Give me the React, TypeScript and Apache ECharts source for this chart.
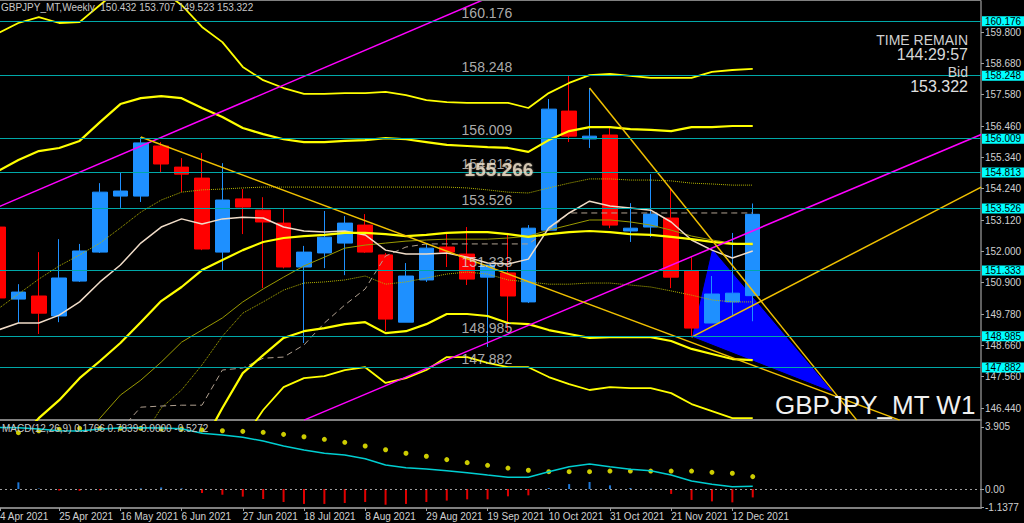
import React, { useEffect, useRef } from 'react';
import * as echarts from 'echarts';

// ---------- data ----------
const weekDates = ['4 Apr 2021','11 Apr 2021','18 Apr 2021','25 Apr 2021','2 May 2021','9 May 2021','16 May 2021','23 May 2021','30 May 2021','6 Jun 2021','13 Jun 2021','20 Jun 2021','27 Jun 2021','4 Jul 2021','11 Jul 2021','18 Jul 2021','25 Jul 2021','1 Aug 2021','8 Aug 2021','15 Aug 2021','22 Aug 2021','29 Aug 2021','5 Sep 2021','12 Sep 2021','19 Sep 2021','26 Sep 2021','3 Oct 2021','10 Oct 2021','17 Oct 2021','24 Oct 2021','31 Oct 2021','7 Nov 2021','14 Nov 2021','21 Nov 2021','28 Nov 2021','5 Dec 2021','12 Dec 2021','19 Dec 2021'];
const dateTickIdx = [0, 3, 6, 9, 12, 15, 18, 21, 24, 27, 30, 33, 36];

const opens = [152.87,150.31,150.42,149.71,150.95,151.98,153.97,153.97,155.75,155.00,154.61,151.98,153.87,153.47,153.01,151.45,151.95,152.30,152.94,151.88,149.49,150.99,152.16,151.91,151.09,151.24,150.21,152.76,156.99,156.00,156.14,152.73,152.87,153.19,151.31,149.46,150.21,150.432];
const closes = [150.35,150.56,149.81,151.06,152.02,154.11,154.15,155.86,155.11,154.75,152.09,153.83,153.58,153.05,151.45,151.98,152.51,153.01,151.98,149.60,151.13,152.12,151.98,151.02,151.52,150.42,152.83,157.06,156.10,156.10,152.94,152.83,153.33,151.09,149.28,150.49,150.52,153.322];
const lows = [150.20,149.46,149.07,149.49,150.92,151.95,153.55,153.76,154.82,154.11,152.05,151.34,152.62,150.70,151.40,148.75,151.41,151.16,151.95,149.17,149.49,150.92,151.45,150.81,148.61,149.17,150.17,152.76,155.89,155.68,152.83,152.34,152.51,150.70,148.96,149.46,149.74,149.523];
const highs = [153.10,150.84,151.98,152.44,152.27,154.43,154.82,156.07,155.89,155.32,155.50,155.14,154.22,153.93,153.51,152.20,153.44,153.26,153.33,151.95,151.59,152.30,152.66,152.87,151.52,152.66,152.94,157.42,158.27,157.81,156.39,153.72,154.75,154.26,151.80,151.13,152.66,153.707];

const bandUpper2 = [159.76,160.12,160.33,160.12,160.15,160.76,161.36,161.58,161.29,160.76,159.98,159.44,158.56,158.09,157.81,157.60,157.60,157.63,157.63,157.67,157.56,157.38,157.31,157.28,157.28,157.28,157.10,157.63,157.99,158.27,158.31,158.24,158.17,158.17,158.17,158.38,158.45,158.49];
const bandUpper1 = [154.86,155.25,155.57,155.68,155.93,156.60,157.24,157.45,157.52,157.45,157.10,156.78,156.39,156.17,155.99,155.89,155.89,155.93,155.96,156.03,155.99,155.89,155.79,155.75,155.71,155.68,155.54,155.96,156.28,156.42,156.42,156.35,156.32,156.28,156.42,156.42,156.46,156.46];
const bandMid = [null,145.30,146.08,146.72,147.50,148.11,148.75,149.49,150.24,150.74,151.34,151.70,152.05,152.34,152.48,152.55,152.59,152.66,152.66,152.62,152.55,152.59,152.66,152.69,152.69,152.62,152.52,152.62,152.69,152.73,152.69,152.62,152.59,152.52,152.44,152.34,152.27,152.27];
const bandLower1 = [null,null,null,null,null,null,null,null,null,null,145.12,146.44,147.68,148.32,148.93,149.17,149.28,149.42,149.49,149.10,149.17,149.42,149.78,149.78,149.71,149.46,149.42,149.21,149.07,148.93,148.96,148.96,148.96,148.82,148.54,148.36,148.18,148.14];
const bandLower2 = [null,null,null,null,null,null,null,null,null,null,null,null,145.30,146.37,147.18,147.50,147.57,147.79,147.89,147.33,147.50,147.79,148.25,148.25,148.04,147.89,147.89,147.54,147.29,147.08,147.18,147.15,147.15,146.97,146.58,146.33,146.08,146.08];
const oliveSolid = [null,null,null,null,145.30,146.08,146.90,147.43,148.07,148.78,149.21,149.64,150.21,150.67,151.09,151.49,151.80,152.12,152.23,152.30,152.37,152.41,152.44,152.44,152.44,152.48,152.55,152.76,152.94,153.12,153.12,153.05,152.94,152.76,152.55,152.41,152.30,152.23];
const oliveDotUpper = [149.96,150.49,151.02,151.49,151.88,152.30,152.84,153.40,153.83,154.11,154.19,154.22,154.26,154.29,154.29,154.29,154.29,154.29,154.29,154.29,154.29,154.29,154.29,154.26,154.19,154.11,154.08,154.26,154.43,154.58,154.58,154.54,154.54,154.51,154.43,154.40,154.36,154.36];
const oliveDotLower = [null,null,null,null,null,null,null,145.30,146.44,147.08,147.97,148.99,149.81,150.21,150.63,150.88,150.92,150.99,151.13,150.84,150.92,151.06,151.20,151.27,151.20,150.99,150.92,150.84,150.84,150.88,150.88,150.81,150.74,150.60,150.45,150.28,150.21,150.21];
const whiteMA = [149.21,149.46,149.46,149.74,150.21,150.92,151.52,152.30,152.87,153.16,152.98,153.16,153.22,153.19,152.87,152.73,152.69,152.73,152.59,152.05,151.91,151.91,151.95,151.80,151.59,151.56,151.73,152.84,153.37,153.79,153.62,153.55,153.47,153.05,152.41,152.05,151.77,152.02];
const greyDashed = [null,null,null,null,null,null,145.66,146.47,146.51,146.54,146.54,147.79,147.86,148.21,148.25,148.68,149.46,150.10,150.67,151.84,152.16,152.27,152.27,152.27,152.27,152.27,152.27,152.76,153.37,153.37,153.37,153.37,153.37,153.37,153.37,153.37,153.37,153.37];

const macdLine = [3.87,3.86,3.78,3.67,3.65,3.78,3.84,3.86,3.84,3.80,3.51,3.40,3.26,3.02,2.71,2.46,2.25,2.14,1.91,1.51,1.34,1.26,1.15,1.03,0.88,0.74,0.74,1.09,1.40,1.57,1.40,1.24,1.15,0.88,0.50,0.30,0.14,0.18];
const signalDots = [null,3.55,3.67,3.76,3.82,3.82,3.82,3.82,3.78,3.78,3.72,3.67,3.63,3.57,3.44,3.29,3.13,2.94,2.71,2.47,2.25,2.06,1.85,1.66,1.49,1.32,1.18,1.09,1.09,1.09,1.13,1.13,1.13,1.13,1.13,1.05,0.99,0.78];
const macdHist = [null,0.42,0.03,-0.10,-0.12,-0.08,-0.04,0.04,0.10,0.04,-0.25,-0.36,-0.48,-0.63,-0.82,-0.94,-0.94,-0.88,-0.82,-0.99,-0.94,-0.82,-0.73,-0.65,-0.65,-0.46,-0.40,0.06,0.31,0.44,0.23,0.06,0.02,-0.31,-0.69,-0.78,-0.84,-0.53];

const levels = [160.176, 158.248, 156.009, 154.813, 153.526, 151.333, 148.985, 147.882];
const bidPrice = 153.322;
const pivotValue = 155.266;
const priceTicks = [159.8, 158.68, 157.58, 156.46, 155.34, 154.24, 153.12, 152.0, 150.9, 149.78, 148.66, 147.56, 146.44];
const macdTicks = [3.905, 0, -1.1377];
const macdTickLabels = ['3.905', '0.00', '-1.1377'];

const magentaUpper = [[0, 153.58], [24, 161.01]];
const magentaLower = [[15, 146.01], [48.2, 156.16]];
const goldA = [[7, 156.07], [44.2, 146.01]];
const goldB = [[29, 157.81], [42.1, 146.01]];
const goldC = [[34, 148.96], [48.2, 154.29]];
const triangle = [[34, 148.96], [35, 152.12], [41.0, 146.97]];

const headerText = 'GBPJPY_MT,Weekly  150.432 153.707 149.523 153.322';
const macdText = 'MACD(12,26,9) 0.1766 0.7839 0.0000 -0.5272';
const timeRemain = '144:29:57';
const symbolText = 'GBPJPY_MT W1';

// ---------- layout ----------
const X_MIN = 0.098;
const X_MAX = 48.19;
const narrow = "'Liberation Sans Narrow', 'Liberation Sans', sans-serif";
const sans = "'Liberation Sans', Arial, sans-serif";
const dateTickPos = dateTickIdx.map((i) => Math.max(i, X_MIN + 0.002));

const toXY = (arr: (number | null)[]) =>
  arr.map((v, i) => (v == null ? null : [i, v])).filter((d) => d !== null) as number[][];

const line = (data: number[][], color: string, width: number, type: any = 'solid', z = 3) => ({
  type: 'line',
  xAxisIndex: 0,
  yAxisIndex: 0,
  data,
  symbol: 'none',
  silent: true,
  z,
  lineStyle: { color, width, type },
});

const buildOption = () => ({
  animation: false,
  backgroundColor: '#000000',
  grid: [
    { left: 0, top: 1, width: 981, height: 419, outerBoundsMode: 'none' },
    { left: 0, top: 421, width: 981, height: 87, outerBoundsMode: 'none' },
  ],
  xAxis: [
    {
      gridIndex: 0, type: 'value', min: X_MIN, max: X_MAX,
      axisLine: { show: true, onZero: false, lineStyle: { color: '#808080', width: 2 } },
      axisTick: { show: false }, axisLabel: { show: false }, splitLine: { show: false },
    },
    {
      gridIndex: 1, type: 'value', min: X_MIN, max: X_MAX,
      axisLine: { show: true, onZero: false, lineStyle: { color: '#808080', width: 2 } },
      axisTick: { show: true, length: 3, customValues: dateTickPos, lineStyle: { color: '#a0a0a0' } },
      axisLabel: {
        show: true, customValues: dateTickPos,
        formatter: (v: number) => weekDates[Math.round(v)] ?? '',
        color: '#d0d0d0', fontSize: 10, fontFamily: narrow, align: 'left', margin: 3,
      },
      splitLine: { show: false },
    },
  ],
  yAxis: [
    {
      gridIndex: 0, type: 'value', position: 'right', min: 146.014, max: 160.902,
      axisLine: { show: true, onZero: false, lineStyle: { color: '#808080', width: 1.5 } },
      axisTick: { show: true, length: 3, customValues: priceTicks, lineStyle: { color: '#a0a0a0' } },
      axisLabel: {
        customValues: priceTicks, formatter: (v: number) => v.toFixed(3),
        color: '#d0d0d0', fontSize: 10, fontFamily: narrow, margin: 4, align: 'left',
      },
      splitLine: { show: false },
    },
    {
      gridIndex: 1, type: 'value', position: 'right', min: -1.196, max: 4.282,
      axisLine: { show: true, onZero: false, lineStyle: { color: '#808080', width: 1.5 } },
      axisTick: { show: true, length: 3, customValues: macdTicks, lineStyle: { color: '#a0a0a0' } },
      axisLabel: {
        customValues: macdTicks,
        formatter: (v: number) => {
          const k = macdTicks.findIndex((t) => Math.abs(t - v) < 1e-6);
          return k >= 0 ? macdTickLabels[k] : '';
        },
        color: '#d0d0d0', fontSize: 10, fontFamily: narrow, margin: 4, align: 'left',
      },
      splitLine: { show: false },
    },
  ],
  series: [
    {
      type: 'custom', xAxisIndex: 0, yAxisIndex: 0, z: 1, silent: true,
      data: [0],
      renderItem: (_p: any, api: any) => ({
        type: 'polygon',
        shape: { points: triangle.map((pt) => api.coord(pt)) },
        style: { fill: '#0000ff', stroke: '#000000', lineWidth: 1 },
      }),
    },
    {
      type: 'candlestick', xAxisIndex: 0, yAxisIndex: 0, z: 2, silent: true,
      data: opens.map((o, i) => [i, o, closes[i], lows[i], highs[i]]),
      encode: { x: 0, y: [1, 2, 3, 4] },
      barWidth: 15,
      itemStyle: { color: '#1e90ff', color0: '#ff0000', borderColor: '#1e90ff', borderColor0: '#ff0000', borderWidth: 1 },
    },
    line(toXY(oliveSolid), '#9a9a00', 1),
    line(toXY(oliveDotUpper), '#b4b400', 1, 'dotted'),
    line(toXY(oliveDotLower), '#b4b400', 1, 'dotted'),
    line(toXY(greyDashed), '#b0a090', 1, [6, 4]),
    line(toXY(whiteMA), '#f0dcc8', 1.5),
    line(toXY(bandUpper2), '#ffff00', 1.8),
    line(toXY(bandUpper1), '#ffff00', 2.2),
    line(toXY(bandMid), '#ffff00', 2.2),
    line(toXY(bandLower1), '#ffff00', 2.2),
    line(toXY(bandLower2), '#ffff00', 1.8),
    line(magentaUpper, '#ff00ff', 1.5, 'solid', 4),
    line(magentaLower, '#ff00ff', 1.5, 'solid', 4),
    line(goldA, '#f0c000', 1.5, 'solid', 4),
    line(goldB, '#f0c000', 1.5, 'solid', 4),
    line(goldC, '#f0c000', 1.5, 'solid', 4),
    {
      type: 'line', xAxisIndex: 0, yAxisIndex: 0, z: 5, silent: true,
      data: [[37, bidPrice]], symbol: 'none', lineStyle: { width: 0 },
      markLine: {
        symbol: ['none', 'none'], silent: true, animation: false,
        data: [
          {
            yAxis: bidPrice, lineStyle: { opacity: 0 },
            label: {
              show: true, position: 'end', formatter: bidPrice.toFixed(3), backgroundColor: '#ffffff',
              color: '#000000', fontSize: 10, fontFamily: narrow, padding: [0, 3, 0, 3], distance: 1,
            },
          },
          ...levels.map((v) => ({
            yAxis: v,
            lineStyle: { color: '#00a8a8', width: 1, type: 'solid' },
            label: {
              show: true, position: 'end', formatter: v.toFixed(3), backgroundColor: '#00ffff',
              color: '#000000', fontSize: 10, fontFamily: narrow, padding: [0, 3, 0, 3], distance: 1,
            },
          })),
        ],
      },
    },
    {
      type: 'scatter', xAxisIndex: 0, yAxisIndex: 0, z: 6, silent: true,
      symbolSize: 1, itemStyle: { color: 'rgba(0,0,0,0)' },
      data: levels.map((v) => [22.75, v]),
      label: {
        show: true, position: [0, -8], align: 'left', verticalAlign: 'middle',
        formatter: (p: any) => p.value[1].toFixed(3),
        color: '#d8d8d8', fontSize: 14, fontFamily: sans,
      },
    },
    {
      type: 'scatter', xAxisIndex: 0, yAxisIndex: 0, z: 7, silent: true,
      symbolSize: 1, itemStyle: { color: 'rgba(0,0,0,0)' },
      data: [[22.9, pivotValue]],
      label: {
        show: true, position: [0, 10], align: 'left', verticalAlign: 'middle',
        formatter: (p: any) => p.value[1].toFixed(3),
        color: '#f2e4cc', fontSize: 19, fontWeight: 'bold', fontFamily: sans,
        textShadowColor: '#8a8070', textShadowBlur: 2,
      },
    },
    {
      type: 'bar', xAxisIndex: 1, yAxisIndex: 1, barWidth: 2, silent: true,
      data: macdHist
        .map((v, i) => (v == null ? null : { value: [i, v], itemStyle: { color: v >= 0 ? '#1e78d8' : '#e00000' } }))
        .filter((d) => d !== null),
      markLine: {
        symbol: ['none', 'none'], silent: true, animation: false,
        label: { show: false },
        lineStyle: { color: '#a0a0a0', type: [2, 3], width: 1 },
        data: [{ yAxis: 0 }],
      },
    },
    {
      type: 'line', xAxisIndex: 1, yAxisIndex: 1, silent: true, symbol: 'none',
      data: toXY(macdLine), lineStyle: { color: '#00ced1', width: 1.5 },
    },
    {
      type: 'scatter', xAxisIndex: 1, yAxisIndex: 1, silent: true, symbolSize: 5,
      itemStyle: { color: '#ffff00' }, data: toXY(signalDots),
    },
  ],
  graphic: [
    { type: 'line', z: 50, shape: { x1: 0, y1: 0.5, x2: 981, y2: 0.5 }, style: { stroke: '#808080', lineWidth: 1 } },
    { type: 'text', z: 60, x: 1, y: 7, style: { text: headerText, fill: '#c8c8c8', font: `10px ${narrow}`, verticalAlign: 'middle' } },
    { type: 'text', z: 60, x: 2, y: 428, style: { text: macdText, fill: '#c8c8c8', font: `10px ${narrow}`, verticalAlign: 'middle' } },
    { type: 'text', z: 60, x: 968, y: 40, style: { text: 'TIME REMAIN', fill: '#d0d0d0', font: `14px ${sans}`, align: 'right', verticalAlign: 'middle' } },
    { type: 'text', z: 60, x: 968, y: 54, style: { text: timeRemain, fill: '#d8d8d8', font: `16px ${sans}`, align: 'right', verticalAlign: 'middle' } },
    { type: 'text', z: 60, x: 968, y: 72, style: { text: 'Bid', fill: '#d0d0d0', font: `14px ${sans}`, align: 'right', verticalAlign: 'middle' } },
    { type: 'text', z: 60, x: 968, y: 86, style: { text: bidPrice.toFixed(3), fill: '#e0e0e0', font: `16px ${sans}`, align: 'right', verticalAlign: 'middle' } },
    { type: 'text', z: 60, x: 775, y: 405, style: { text: symbolText, fill: '#f0f0f0', font: `26px ${sans}`, verticalAlign: 'middle' } },
  ],
});

export default function App() {
  const ref = useRef<HTMLDivElement>(null);
  useEffect(() => {
    const chart = echarts.init(ref.current as HTMLDivElement, null, { renderer: 'svg' });
    chart.setOption(buildOption() as any);
    return () => chart.dispose();
  }, []);
  return (
    <div
      ref={ref}
      style={{ position: 'fixed', left: 0, top: 0, width: 1024, height: 523, background: '#000000' }}
    />
  );
}
